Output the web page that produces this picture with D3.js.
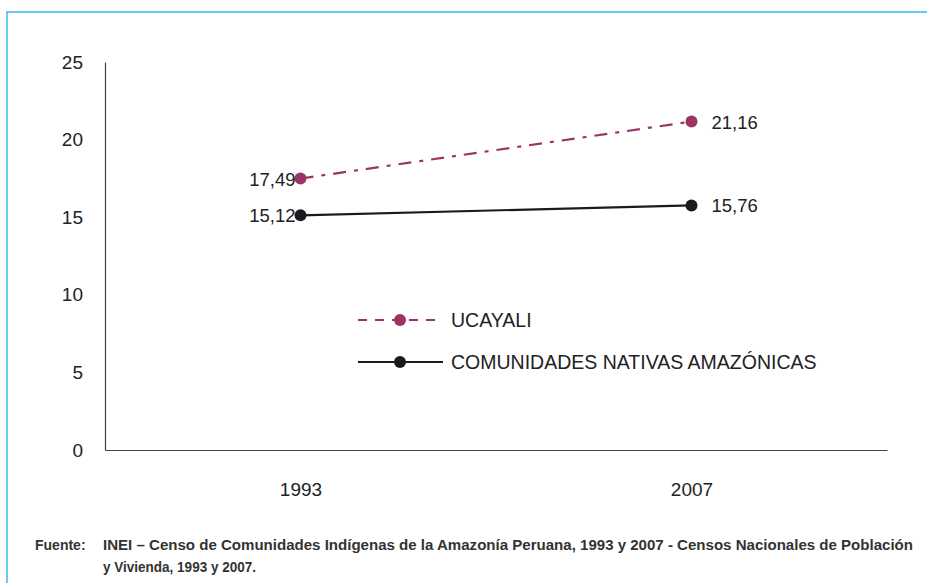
<!DOCTYPE html>
<html>
<head>
<meta charset="utf-8">
<script src="https://cdn.jsdelivr.net/npm/d3@7"></script>
<style>
  body { margin: 0; background: #fff; }
  text { font-family: "Liberation Sans", Arial, sans-serif; }
</style>
</head>
<body>
<svg id="chart" width="927" height="583"></svg>
<script>
// chart data
var years = ["1993", "2007"];
var ucayali = [17.49, 21.16];
var comunidades = [15.12, 15.76];
var seriesNames = ["UCAYALI", "COMUNIDADES NATIVAS AMAZÓNICAS"];
var yTicks = [0, 5, 10, 15, 20, 25];
var fuente1 = "INEI –  Censo de Comunidades Indígenas de la Amazonía Peruana, 1993 y 2007 - Censos Nacionales de Población";
var fuente2 = "y Vivienda, 1993 y 2007.";

var svg = d3.select("#chart");
var margin = {top: 62, left: 105, right: 40, bottom: 133};
var width = 927 - margin.left - margin.right;
var height = 583 - margin.top - margin.bottom;

// light blue frame
svg.append("rect")
    .attr("x", 7).attr("y", 12)
    .attr("width", 940).attr("height", 600)
    .attr("fill", "none")
    .attr("stroke", "#3cb9e9")
    .attr("stroke-width", 1.5);

var canvas = svg.append("g").attr("transform", "translate(" + margin.left + "," + margin.top + ")");

var x = d3.scalePoint().domain(years).range([0, width]).padding(0.5);
var y = d3.scaleLinear().domain([0, 25]).range([height, 0]);

// axes
var yAxis = d3.axisLeft(y).tickValues(yTicks).tickSize(0).tickPadding(22);
canvas.append("g")
    .attr("class", "y axis")
    .call(yAxis)
    .call(function(g) {
      g.select(".domain").attr("stroke", "#444").attr("stroke-width", 1.2);
      g.selectAll("text").attr("font-size", 19).attr("fill", "#222");
    });

var xAxis = d3.axisBottom(x).tickSize(0).tickPadding(33);
canvas.append("g")
    .attr("class", "x axis")
    .attr("transform", "translate(0," + height + ")")
    .call(xAxis)
    .call(function(g) {
      g.select(".domain").attr("stroke", "#444").attr("stroke-width", 1.2);
      g.selectAll("text").attr("font-size", 19).attr("fill", "#222");
    });

var series = [
  {name: seriesNames[0], values: ucayali, color: "#9b3366", dash: "13,8,4,8"},
  {name: seriesNames[1], values: comunidades, color: "#1e1a1b", dash: null}
];

var line = d3.line()
    .x(function(d, i) { return x(years[i]); })
    .y(function(d) { return y(d); });

series.forEach(function(s) {
  canvas.append("path")
      .datum(s.values)
      .attr("d", line)
      .attr("fill", "none")
      .attr("stroke", s.color)
      .attr("stroke-width", 2.2)
      .attr("stroke-dasharray", s.dash);

  canvas.selectAll(null)
      .data(s.values)
    .enter().append("circle")
      .attr("cx", function(d, i) { return x(years[i]); })
      .attr("cy", function(d) { return y(d); })
      .attr("r", 6)
      .attr("fill", s.color);

  canvas.selectAll(null)
      .data(s.values)
    .enter().append("text")
      .attr("x", function(d, i) { return i == 0 ? x(years[i]) - 5 : x(years[i]) + 20; })
      .attr("y", function(d) { return y(d) + 7; })
      .attr("text-anchor", function(d, i) { return i == 0 ? "end" : "start"; })
      .attr("font-size", 18.5)
      .attr("fill", "#222")
      .text(function(d) { return d.toFixed(2).replace(".", ","); });
});

// legend
var legend = svg.append("g").attr("transform", "translate(358,320)");
series.forEach(function(s, i) {
  var g = legend.append("g").attr("transform", "translate(0," + (i * 42) + ")");
  g.append("line")
      .attr("x1", 0).attr("x2", 85)
      .attr("stroke", s.color)
      .attr("stroke-width", 2)
      .attr("stroke-dasharray", s.dash ? "9,8" : null);
  g.append("circle").attr("cx", 42).attr("r", 6).attr("fill", s.color);
  g.append("text")
      .attr("x", 93).attr("y", 7)
      .attr("font-size", 19.5)
      .attr("fill", "#222")
      .text(s.name);
});

// source note
var note = svg.append("g")
    .style("font-family", "'Liberation Sans Narrow', 'DejaVu Sans Condensed', sans-serif")
    .attr("font-weight", "bold")
    .attr("font-size", 14)
    .attr("fill", "#333");
note.append("text").attr("x", 35).attr("y", 550).text("Fuente:");
note.append("text").attr("x", 103).attr("y", 550)
    .attr("textLength", 810).attr("lengthAdjust", "spacingAndGlyphs")
    .text(fuente1);
note.append("text").attr("x", 103).attr("y", 572)
    .attr("textLength", 153).attr("lengthAdjust", "spacingAndGlyphs")
    .text(fuente2);
</script>
</body>
</html>
